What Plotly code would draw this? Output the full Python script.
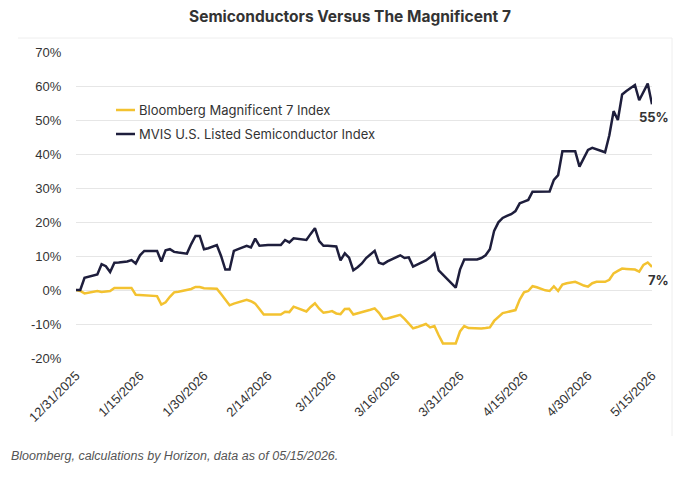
import pandas as pd
import plotly.graph_objects as go

dates = pd.date_range("2025-12-31", "2026-05-15", freq="D")

semis = [
    0, 0, 3.6, 4.0, 4.3, 4.6, 7.6, 7.0, 5.3, 8.0,
    8.1, 8.2, 8.4, 8.8, 7.8, 10.2, 11.5, 11.5, 11.5, 11.5,
    8.4, 11.7, 12.0, 11.2, 11.0, 10.9, 10.7, 13.5, 15.9, 15.9,
    12.0, 12.3, 12.7, 13.2, 10.0, 6.0, 6.0, 11.5, 12.0, 12.5,
    13.0, 12.5, 15.1, 13.0, 13.2, 13.2, 13.2, 13.2, 13.2, 14.7,
    14.0, 15.2, 15.0, 14.9, 14.7, 16.5, 18.2, 14.4, 13.0, 13.0,
    13.0, 12.8, 8.7, 10.8, 9.5, 5.8, 6.7, 7.8, 9.4, 10.5,
    11.5, 8.0, 7.6, 8.4, 9.0, 9.6, 10.2, 9.4, 9.6, 6.9,
    7.5, 8.1, 8.7, 9.6, 10.8, 5.8, 4.5, 3.2, 2.0, 0.7,
    6.0, 9.0, 9.0, 9.0, 9.0, 9.4, 10.2, 12.0, 17.4, 19.9,
    21.2, 21.8, 22.3, 23.2, 25.5, 26.0, 26.5, 28.9, 28.9, 28.9,
    28.9, 29.0, 32.4, 33.8, 40.8, 40.8, 40.8, 40.8, 36.3, 38.8,
    41.2, 41.8, 41.4, 41.0, 40.5, 45.5, 52.6, 50.0, 57.5, 58.5,
    59.4, 60.3, 55.8, 58.5, 60.7, 54.6,
]

mag7 = [
    0, -0.3, -1.0, -0.8, -0.6, -0.3, -0.6, -0.4, -0.3, 0.6,
    0.6, 0.6, 0.6, 0.6, -1.4, -1.5, -1.6, -1.7, -1.8, -1.8,
    -4.3, -3.6, -2.0, -0.7, -0.5, -0.3, -0.1, 0.3, 0.9, 0.9,
    0.5, 0.4, 0.4, 0.4, -1.2, -2.9, -4.5, -4.0, -3.6, -3.2,
    -2.9, -3.3, -4.0, -5.6, -7.2, -7.2, -7.2, -7.2, -7.2, -6.4,
    -6.5, -4.9, -5.3, -5.8, -6.3, -5.0, -3.9, -5.5, -6.7, -6.5,
    -6.2, -6.9, -7.1, -5.6, -5.5, -7.2, -6.9, -6.5, -6.2, -5.8,
    -5.4, -6.7, -8.5, -8.4, -8.0, -7.6, -7.3, -8.5, -9.9, -11.3,
    -10.9, -10.5, -10.0, -11.0, -10.6, -13.3, -15.7, -15.7, -15.7, -15.7,
    -12.2, -10.6, -11.2, -11.3, -11.3, -11.3, -11.2, -11.0, -9.1, -7.8,
    -6.8, -6.5, -6.2, -5.9, -2.8, -0.7, -0.3, 1.1, 0.8, 0.3,
    -0.1, -0.3, 1.1, -0.3, 1.6, 2.0, 2.2, 2.4, 1.9, 1.3,
    1.0, 2.0, 2.4, 2.4, 2.4, 3.0, 4.9, 5.6, 6.3, 6.2,
    6.1, 6.0, 5.4, 7.4, 8.1, 6.8,
]

tick_dates = ["2025-12-31", "2026-01-15", "2026-01-30", "2026-02-14", "2026-03-01",
              "2026-03-16", "2026-03-31", "2026-04-15", "2026-04-30", "2026-05-15"]
tick_labels = ["12/31/2025", "1/15/2026", "1/30/2026", "2/14/2026", "3/1/2026",
               "3/16/2026", "3/31/2026", "4/15/2026", "4/30/2026", "5/15/2026"]
y_ticks = [-20, -10, 0, 10, 20, 30, 40, 50, 60, 70]
y_labels = [f"{v}%" for v in y_ticks]

names = ["Bloomberg Magnificent 7 Index", "MVIS U.S. Listed Semiconductor Index"]
end_labels = ["7%", "55%"]

YELLOW = "#F3C230"
NAVY = "#1E1E3C"
TEXT = "#333333"

W, H = 700, 490
OFF = 8  # page body margin in the browser
L, R, T, B = 76 - OFF, 48 + OFF, 52 - OFF, 132 + OFF
PW, PH = W - L - R, H - T - B


def px(x):
    return (x - OFF - L) / PW


def py(y):
    return (H - B - (y - OFF)) / PH


fig = go.Figure()
fig.add_trace(go.Scatter(x=dates, y=mag7, mode="lines", name=names[0],
                         line=dict(color=YELLOW, width=2.5), showlegend=False))
fig.add_trace(go.Scatter(x=dates, y=semis, mode="lines", name=names[1],
                         line=dict(color=NAVY, width=2.5), showlegend=False))

font_main = "Inter, Liberation Sans, Arial, sans-serif"
font_ax = "Liberation Sans, Arial, sans-serif"

annotations = []
shapes = []
# manual legend
for i, (nm, col) in enumerate(zip(names, [YELLOW, NAVY])):
    yy = 110 + 24 * i
    shapes.append(dict(type="line", xref="paper", yref="paper",
                       x0=px(116), x1=px(135), y0=py(yy), y1=py(yy),
                       line=dict(color=col, width=2.5)))
    annotations.append(dict(text=nm, xref="paper", yref="paper", x=px(137), y=py(yy),
                            xanchor="left", yanchor="middle", showarrow=False,
                            font=dict(family=font_main, size=13, color=TEXT)))

# end labels
for vals, lab in zip([mag7, semis], end_labels):
    annotations.append(dict(text=f"<b>{lab}</b>", x=dates[-1], y=vals[-1], xref="x", yref="y",
                            xanchor="right", yanchor="middle", xshift=19, yshift=-13,
                            showarrow=False, font=dict(family=font_main, size=13, color=TEXT)))

# source note
annotations.append(dict(text="<i>Bloomberg, calculations by Horizon, data as of 05/15/2026.</i>",
                        xref="paper", yref="paper", x=px(9), y=py(456), xanchor="left",
                        yanchor="middle", showarrow=False,
                        font=dict(family=font_ax, size=12.5, color="#555555")))

# title
annotations.append(dict(text="<b>Semiconductors Versus The Magnificent 7</b>",
                        xref="paper", yref="paper", x=px(350), y=py(17), xanchor="center",
                        yanchor="middle", showarrow=False,
                        font=dict(family=font_main, size=15.5, color=TEXT)))

# faint card border (top and right)
shapes.append(dict(type="line", xref="paper", yref="paper", x0=px(18), x1=px(672),
                   y0=py(38), y1=py(38), line=dict(color="#EEEEEE", width=1)))
shapes.append(dict(type="line", xref="paper", yref="paper", x0=px(672), x1=px(672),
                   y0=py(38), y1=py(436), line=dict(color="#EEEEEE", width=1)))

fig.update_layout(
    width=W, height=H,
    margin=dict(l=L, r=R, t=T, b=B),
    paper_bgcolor="white", plot_bgcolor="white",
    annotations=annotations, shapes=shapes,
    xaxis=dict(range=[dates[0], dates[-1]], tickvals=pd.to_datetime(tick_dates), ticktext=tick_labels,
               tickangle=-45, showgrid=False, zeroline=False, showline=False,
               ticks="outside", ticklen=4, tickcolor="rgba(0,0,0,0)",
               tickfont=dict(family=font_ax, size=13, color=TEXT)),
    yaxis=dict(range=[-20, 70], tickvals=y_ticks, ticktext=y_labels, showgrid=True,
               gridcolor="#E6E6E6", gridwidth=1, zeroline=False, showline=False,
               ticks="outside", ticklen=11, tickcolor="rgba(0,0,0,0)",
               tickfont=dict(family=font_ax, size=13, color=TEXT)),
)

fig.write_html("out.html")
